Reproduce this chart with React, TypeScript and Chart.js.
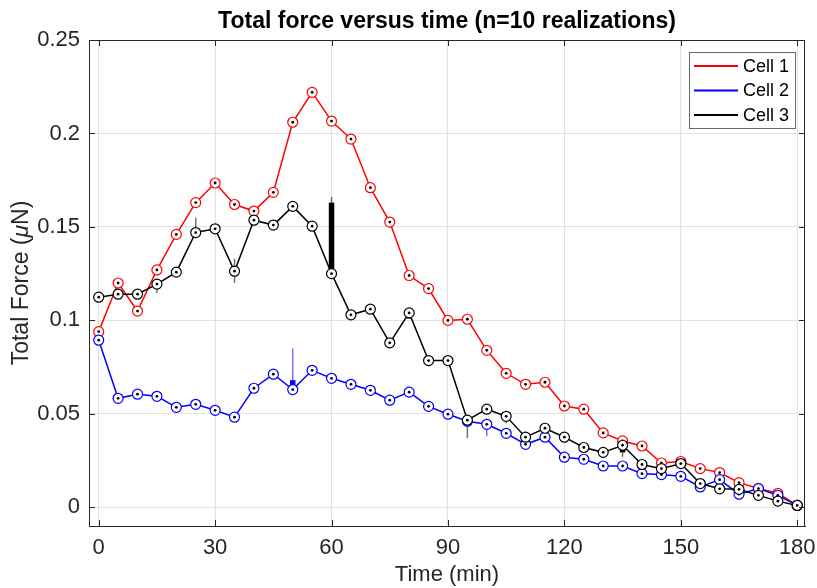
import React, { useEffect, useRef } from 'react';
import { Chart, registerables } from 'chart.js';

Chart.register(...registerables);

// ---------- data ----------
const timeMin = [0, 5, 10, 15, 20, 25, 30, 35, 40, 45, 50, 55, 60, 65, 70, 75, 80, 85, 90, 95, 100, 105, 110, 115, 120, 125, 130, 135, 140, 145, 150, 155, 160, 165, 170, 175, 180];

const cell1 = [0.094, 0.120, 0.105, 0.127, 0.146, 0.163, 0.1735, 0.162, 0.1585, 0.1685, 0.206, 0.222, 0.2066, 0.197, 0.171, 0.1526, 0.124, 0.117, 0.100, 0.1006, 0.084, 0.0717, 0.0658, 0.0669, 0.0542, 0.0525, 0.0398, 0.0355, 0.0328, 0.0237, 0.0245, 0.0207, 0.0186, 0.0132, 0.0101, 0.0075, 0.001];

const cell2 = [0.0894, 0.0583, 0.0605, 0.0594, 0.0535, 0.0551, 0.0519, 0.0482, 0.0637, 0.0712, 0.063, 0.0733, 0.069, 0.0658, 0.0626, 0.0573, 0.0616, 0.054, 0.0498, 0.046, 0.0444, 0.0396, 0.0337, 0.0375, 0.0268, 0.0257, 0.0221, 0.0221, 0.018, 0.0175, 0.0166, 0.0109, 0.0148, 0.007, 0.010, 0.0064, 0.001];

const cell3 = [0.1124, 0.114, 0.114, 0.1194, 0.1258, 0.147, 0.149, 0.1263, 0.1536, 0.151, 0.161, 0.1504, 0.125, 0.103, 0.106, 0.088, 0.104, 0.0785, 0.0785, 0.0466, 0.0525, 0.0487, 0.0375, 0.0423, 0.0375, 0.032, 0.0294, 0.0332, 0.0229, 0.0207, 0.0234, 0.0127, 0.0099, 0.0096, 0.0064, 0.0033, 0.001];

// error bars: [time, low, high]
const cell2ErrThin = [[50, 0.063, 0.085], [100, 0.038, 0.0444]];
const cell2ErrThick = [[50, 0.063, 0.068]];
const cell3ErrThin = [[15, 0.1145, 0.1194], [25, 0.147, 0.155], [35, 0.120, 0.133], [60, 0.125, 0.166], [95, 0.037, 0.0466], [105, 0.045, 0.0487], [135, 0.027, 0.0332], [160, 0.008, 0.012]];
const cell3ErrThick = [[20, 0.1258, 0.128], [35, 0.1263, 0.129], [60, 0.125, 0.163], [80, 0.101, 0.104], [135, 0.0294, 0.0332]];

const seriesNames = ['Cell 1', 'Cell 2', 'Cell 3'];
const seriesColors = ['#ff0000', '#0000ff', '#000000'];
const xTicks = [0, 30, 60, 90, 120, 150, 180];
const yTicks = [0, 0.05, 0.1, 0.15, 0.2, 0.25];

const titleText = 'Total force versus time (n=10 realizations)';
const xTitle = 'Time (min)';
const yTitleParts = [['Total Force (', false], ['\u03bc', true], ['N)', false]] as [string, boolean][];

const FONT = '"Liberation Sans", Arial, Helvetica, sans-serif';
const AXIS = '#262626';

const errorSets = [
  { ds: 1, thin: cell2ErrThin, thick: cell2ErrThick, thinColor: 'rgba(0,0,255,0.55)', thickColor: '#0000ff' },
  { ds: 2, thin: cell3ErrThin, thick: cell3ErrThick, thinColor: 'rgba(0,0,0,0.55)', thickColor: '#000000' },
];

const decor = {
  id: 'decor',
  beforeDatasetsDraw(chart: any) {
    const { ctx, scales } = chart;
    const xs = scales.x, ys = scales.y;
    ctx.save();
    ctx.lineCap = 'butt';
    for (const set of errorSets) {
      for (const [t, lo, hi] of set.thin) {
        const px = xs.getPixelForValue(t);
        ctx.strokeStyle = set.thinColor;
        ctx.lineWidth = 1.5;
        ctx.beginPath();
        ctx.moveTo(px, ys.getPixelForValue(lo));
        ctx.lineTo(px, ys.getPixelForValue(hi));
        ctx.stroke();
      }
      for (const [t, lo, hi] of set.thick) {
        const px = xs.getPixelForValue(t);
        ctx.strokeStyle = set.thickColor;
        ctx.lineWidth = 5.5;
        ctx.beginPath();
        ctx.moveTo(px, ys.getPixelForValue(lo));
        ctx.lineTo(px, ys.getPixelForValue(hi));
        ctx.stroke();
      }
    }
    ctx.restore();
  },
  afterDatasetDraw(chart: any, args: any) {
    const { ctx } = chart;
    ctx.save();
    ctx.fillStyle = '#000';
    for (const el of args.meta.data) {
      ctx.beginPath();
      ctx.arc(el.x, el.y, 1.4, 0, Math.PI * 2);
      ctx.fill();
    }
    ctx.restore();
  },
  afterDatasetsDraw(chart: any) {
    const { ctx, chartArea, scales } = chart;
    const { left, right, top, bottom } = chartArea;
    const xs = scales.x, ys = scales.y;
    ctx.save();
    // box
    ctx.strokeStyle = AXIS;
    ctx.lineWidth = 1;
    ctx.beginPath();
    ctx.moveTo(left, top + 0.5);
    ctx.lineTo(right, top + 0.5);
    ctx.moveTo(right - 0.5, top);
    ctx.lineTo(right - 0.5, bottom);
    ctx.stroke();
    // inward ticks
    const tl = 6;
    ctx.beginPath();
    for (const v of xTicks) {
      const px = Math.round(xs.getPixelForValue(v)) + 0.5;
      ctx.moveTo(px, bottom);
      ctx.lineTo(px, bottom - tl);
      ctx.moveTo(px, top);
      ctx.lineTo(px, top + tl);
    }
    for (const v of yTicks) {
      const py = Math.round(ys.getPixelForValue(v)) + 0.5;
      ctx.moveTo(left, py);
      ctx.lineTo(left + tl, py);
      ctx.moveTo(right, py);
      ctx.lineTo(right - tl, py);
    }
    ctx.stroke();

    // legend
    const lx = 689, ly = 52, lw = 106, lh = 76;
    ctx.fillStyle = '#ffffff';
    ctx.fillRect(lx, ly, lw, lh);
    ctx.strokeStyle = '#6a6a6a';
    ctx.lineWidth = 1;
    ctx.strokeRect(lx + 0.5, ly + 0.5, lw, lh);
    ctx.font = `18px ${FONT}`;
    ctx.textBaseline = 'middle';
    ctx.textAlign = 'left';
    seriesNames.forEach((name, i) => {
      const y = ly + 14 + i * 24.5;
      ctx.strokeStyle = seriesColors[i];
      ctx.lineWidth = 2;
      ctx.beginPath();
      ctx.moveTo(694, y);
      ctx.lineTo(738, y);
      ctx.stroke();
      ctx.fillStyle = '#000';
      ctx.fillText(name, 743, y + 1);
    });
    ctx.restore();
  },
  afterDraw(chart: any) {
    const { ctx, chartArea } = chart;
    const { left, right, top, bottom } = chartArea;
    ctx.save();
    // title
    ctx.fillStyle = '#000';
    ctx.font = `bold 23px ${FONT}`;
    ctx.textAlign = 'center';
    ctx.textBaseline = 'middle';
    ctx.fillText(titleText, (left + right) / 2, 22);
    // y title
    ctx.fillStyle = AXIS;
    ctx.translate(22, (top + bottom) / 2);
    ctx.rotate(-Math.PI / 2);
    const fonts = yTitleParts.map(([, it]) => `${it ? 'italic ' : ''}23px ${FONT}`);
    let total = 0;
    const widths = yTitleParts.map(([txt], i) => {
      ctx.font = fonts[i];
      const w = ctx.measureText(txt).width;
      total += w;
      return w;
    });
    let x = -total / 2;
    ctx.textAlign = 'left';
    yTitleParts.forEach(([txt], i) => {
      ctx.font = fonts[i];
      ctx.fillText(txt, x, 0);
      x += widths[i];
    });
    ctx.restore();
  },
};

export default function App() {
  const ref = useRef<HTMLCanvasElement | null>(null);
  useEffect(() => {
    document.body.style.margin = '0';
    document.body.style.overflow = 'hidden';
    const canvas = ref.current;
    if (!canvas) return;
    const values = [cell1, cell2, cell3];
    const orders = [2, 1, 0];
    const chart = new Chart(canvas, {
      type: 'line',
      data: {
        datasets: values.map((vals, i) => ({
          label: seriesNames[i],
          data: timeMin.map((t, j) => ({ x: t, y: vals[j] })),
          borderColor: seriesColors[i],
          borderWidth: 1.5,
          pointStyle: 'circle',
          pointRadius: 5,
          pointBorderWidth: 1.2,
          pointBorderColor: seriesColors[i],
          pointBackgroundColor: '#ffffff',
          pointHoverRadius: 5,
          tension: 0,
          fill: false,
          order: orders[i],
        })),
      },
      options: {
        animation: false,
        responsive: false,
        maintainAspectRatio: false,
        devicePixelRatio: 1,
        events: [],
        layout: { padding: { top: 40, right: 12, left: 0, bottom: 0 } },
        plugins: {
          legend: { display: false },
          title: { display: false },
          tooltip: { enabled: false },
        },
        scales: {
          x: {
            type: 'linear',
            min: -2.5,
            max: 182,
            afterBuildTicks: (s: any) => { s.ticks = xTicks.map((v) => ({ value: v })); },
            afterFit: (s: any) => { s.height = 62; s.paddingLeft = 0; s.paddingRight = 0; },
            grid: { color: '#e2e2e2', lineWidth: 1, drawTicks: false },
            border: { display: true, color: AXIS, width: 1 },
            ticks: {
              padding: 9,
              color: AXIS,
              autoSkip: false,
              maxRotation: 0,
              font: { family: FONT, size: 22 },
              callback: (v: any) => String(v),
            },
            title: {
              display: true,
              text: xTitle,
              color: AXIS,
              font: { family: FONT, size: 22 },
              padding: { top: 0, bottom: 0 },
            },
          },
          y: {
            type: 'linear',
            min: -0.01,
            max: 0.25,
            afterBuildTicks: (s: any) => { s.ticks = yTicks.map((v) => ({ value: v })); },
            afterFit: (s: any) => { s.width = 89; s.paddingTop = 0; s.paddingBottom = 0; },
            grid: { color: '#e2e2e2', lineWidth: 1, drawTicks: false },
            border: { display: true, color: AXIS, width: 1 },
            ticks: {
              padding: 9,
              color: AXIS,
              autoSkip: false,
              font: { family: FONT, size: 22 },
              callback: (v: any) => String(v),
            },
          },
        },
      },
      plugins: [decor],
    } as any);
    return () => chart.destroy();
  }, []);
  return (
    <div style={{ position: 'absolute', left: 0, top: 0, width: '817px', height: '588px' }}>
      <canvas ref={ref} width={817} height={588} style={{ display: 'block', width: '817px', height: '588px' }} />
    </div>
  );
}
